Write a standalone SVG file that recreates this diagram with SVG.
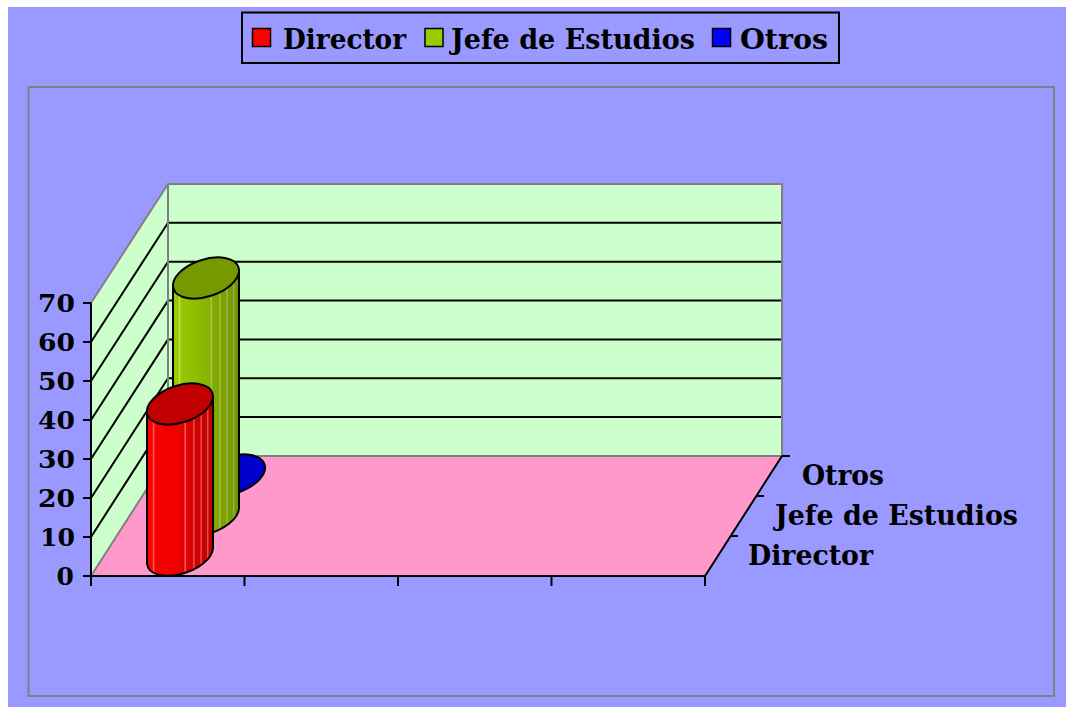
<svg xmlns="http://www.w3.org/2000/svg" width="1066" height="707" viewBox="0 0 1066 707">
<style>
.lbl{font-family:"DejaVu Serif","Liberation Serif",serif;font-weight:bold;fill:#000}
.cat{font-size:28px}
.num{font-size:25px}
.grid{stroke:#000;stroke-width:2;fill:none}
.edge{stroke:#808080;stroke-width:2;fill:none}
.axis{stroke:#000;stroke-width:2;fill:none}
.out{stroke:#000;stroke-width:2;stroke-linejoin:round}
</style>
<defs>
<linearGradient id="redBody" x1="0" y1="0" x2="1" y2="0">
<stop offset="0" stop-color="#FF0000"/>
<stop offset="0.08" stop-color="#FF0000"/>
<stop offset="0.1" stop-color="#FF6060"/>
<stop offset="0.12" stop-color="#FA0000"/>
<stop offset="0.45" stop-color="#EE0000"/>
<stop offset="0.56" stop-color="#E20000"/>
<stop offset="0.58" stop-color="#F07070"/>
<stop offset="0.6" stop-color="#DD0000"/>
<stop offset="0.69" stop-color="#D80000"/>
<stop offset="0.71" stop-color="#E86060"/>
<stop offset="0.73" stop-color="#D40000"/>
<stop offset="0.8" stop-color="#D00000"/>
<stop offset="0.82" stop-color="#E06060"/>
<stop offset="0.84" stop-color="#CC0000"/>
<stop offset="0.9" stop-color="#C80000"/>
<stop offset="0.92" stop-color="#DD6060"/>
<stop offset="0.94" stop-color="#C40000"/>
<stop offset="1" stop-color="#C00000"/>
</linearGradient>
<linearGradient id="greenBody" x1="0" y1="0" x2="1" y2="0">
<stop offset="0" stop-color="#99CC00"/>
<stop offset="0.08" stop-color="#99CC00"/>
<stop offset="0.1" stop-color="#C0E060"/>
<stop offset="0.12" stop-color="#96C800"/>
<stop offset="0.45" stop-color="#8CB800"/>
<stop offset="0.56" stop-color="#86B000"/>
<stop offset="0.58" stop-color="#B0C860"/>
<stop offset="0.6" stop-color="#82AA00"/>
<stop offset="0.69" stop-color="#80A800"/>
<stop offset="0.71" stop-color="#A8C060"/>
<stop offset="0.73" stop-color="#7EA400"/>
<stop offset="0.8" stop-color="#7BA000"/>
<stop offset="0.82" stop-color="#A0B860"/>
<stop offset="0.84" stop-color="#789C00"/>
<stop offset="0.9" stop-color="#769A00"/>
<stop offset="0.92" stop-color="#98B060"/>
<stop offset="0.94" stop-color="#749800"/>
<stop offset="1" stop-color="#729600"/>
</linearGradient>
</defs>

<rect x="8" y="7" width="1058" height="700" fill="#9999FF"/>
<rect x="28.5" y="87" width="1025.5" height="609" fill="none" stroke="#808080" stroke-width="2"/>

<g id="walls">
<polygon points="91,303 168,184 168,456 91,576" fill="#CCFFCC"/>
<rect x="168" y="184" width="614" height="272" fill="#CCFFCC"/>
<polygon points="91,576 168,456 782,456 705,576" fill="#FF99CC"/>
</g>

<g id="gridlines">
<path class="grid" d="M168,417.1H782M168,378.3H782M168,339.4H782M168,300.6H782M168,261.7H782M168,222.8H782"/>
<path class="grid" d="M91,537L168,417.1M91,498L168,378.3M91,459L168,339.4M91,420L168,300.6M91,381L168,261.7M91,342L168,222.8"/>
<path class="edge" d="M91,303L168,184H782V456H168V184M91,576L168,456"/>
</g>

<g id="axes">
<path class="axis" d="M91,303V576H705L782,456"/>
<path class="axis" d="M83,303H91M83,342H91M83,381H91M83,420H91M83,459H91M83,498H91M83,537H91M83,576H91"/>
<path class="axis" d="M91,576V586M244.5,576V586M398,576V586M551.5,576V586M705,576V586"/>
<path class="axis" d="M730.7,536H738M756.3,496H764M782,456H790"/>
</g>

<g id="value-labels" class="lbl num" text-anchor="end">
<text x="75" y="312" textLength="37" lengthAdjust="spacingAndGlyphs">70</text>
<text x="75" y="351" textLength="37" lengthAdjust="spacingAndGlyphs">60</text>
<text x="75" y="390" textLength="37" lengthAdjust="spacingAndGlyphs">50</text>
<text x="75" y="429" textLength="37" lengthAdjust="spacingAndGlyphs">40</text>
<text x="75" y="468" textLength="37" lengthAdjust="spacingAndGlyphs">30</text>
<text x="75" y="507" textLength="37" lengthAdjust="spacingAndGlyphs">20</text>
<text x="75" y="546" textLength="35" lengthAdjust="spacingAndGlyphs">10</text>
<text x="74" y="585">0</text>
</g>

<g id="category-labels" class="lbl cat">
<text x="802" y="485" textLength="82" lengthAdjust="spacingAndGlyphs">Otros</text>
<text x="775" y="525" textLength="243" lengthAdjust="spacingAndGlyphs">Jefe de Estudios</text>
<text x="748" y="565" textLength="125" lengthAdjust="spacingAndGlyphs">Director</text>
</g>

<g id="series-otros">
<ellipse rx="34.25" ry="18.5" transform="translate(232,475) rotate(-18.3)" fill="#0000CC" class="out"/>
</g>

<g id="series-jefe">
<path class="out" fill="url(#greenBody)" d="M173,285.76L173,523.76A34.25,18.5 -18.3 0 0 239,508.24L239,270.24Z"/>
<ellipse rx="34.25" ry="18.5" transform="translate(206,278) rotate(-18.3)" fill="#779900" class="out"/>
</g>

<g id="series-director">
<path class="out" fill="url(#redBody)" d="M147,411.76L147,563.76A34.25,18.5 -18.3 0 0 213,548.24L213,396.24Z"/>
<ellipse rx="34.25" ry="18.5" transform="translate(180,404) rotate(-18.3)" fill="#C00000" class="out"/>
</g>

<g id="legend">
<rect x="242" y="12.5" width="597" height="50.5" fill="none" stroke="#000" stroke-width="2"/>
<rect x="252.5" y="28.5" width="18" height="18" fill="#FF0000" stroke="#000" stroke-width="1.5"/>
<rect x="425" y="28.5" width="18" height="18" fill="#99CC00" stroke="#000" stroke-width="1.5"/>
<rect x="712.5" y="28.5" width="18" height="18" fill="#0000FF" stroke="#000" stroke-width="1.5"/>
<text class="lbl cat" x="283" y="49" textLength="123" lengthAdjust="spacingAndGlyphs">Director</text>
<text class="lbl cat" x="451" y="49" textLength="244" lengthAdjust="spacingAndGlyphs">Jefe de Estudios</text>
<text class="lbl cat" x="740" y="49" textLength="88" lengthAdjust="spacingAndGlyphs">Otros</text>
</g>
</svg>
